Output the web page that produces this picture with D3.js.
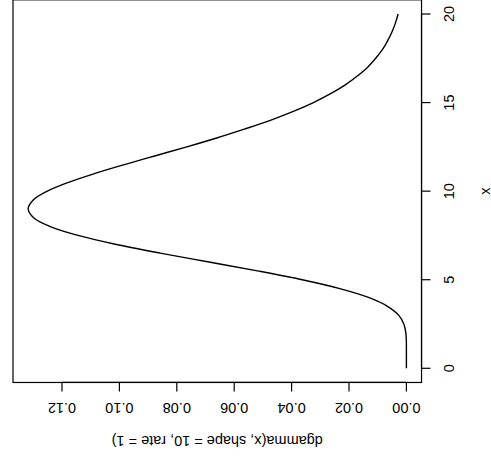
<!DOCTYPE html>
<html>
<head>
<meta charset="utf-8">
<script src="https://cdn.jsdelivr.net/npm/d3@7.9.0/dist/d3.min.js"></script>
<style>
  html, body { margin: 0; padding: 0; background: #fff; }
  svg { display: block; }
  text { font-family: "Liberation Sans", Arial, sans-serif; font-size: 14.5px; fill: #000; }
</style>
</head>
<body>
<svg id="chart" width="491" height="466"></svg>
<script>
const xValues = [0, 0.5, 1, 1.5, 2, 2.5, 3, 3.5, 4, 4.5, 5, 5.5, 6, 6.5, 7, 7.5, 8, 8.5, 9, 9.5,
  10, 10.5, 11, 11.5, 12, 12.5, 13, 13.5, 14, 14.5, 15, 15.5, 16, 16.5, 17, 17.5, 18, 18.5, 19, 19.5, 20];
const densityValues = [0, 0, 0, 0.00002, 0.0002, 0.0009, 0.0027, 0.0066, 0.0132, 0.0232,
  0.0363, 0.0519, 0.0688, 0.0858, 0.1014, 0.1144, 0.1241, 0.1299, 0.1318, 0.1300,
  0.1251, 0.1177, 0.1085, 0.0982, 0.0874, 0.0765, 0.0661, 0.0565, 0.0474, 0.0394,
  0.0324, 0.0264, 0.0213, 0.0171, 0.0135, 0.0107, 0.0083, 0.0065, 0.0050, 0.0038, 0.0029];
const xTicks = [0, 5, 10, 15, 20];
const yTicks = [0.00, 0.02, 0.04, 0.06, 0.08, 0.10, 0.12];
const xTitle = 'x';
const yTitle = 'dgamma(x, shape = 10, rate = 1)';

const svg = d3.select('#chart');

// the whole plot is turned a quarter turn: x runs bottom->top, density runs right->left
const xs = d3.scaleLinear().domain([0, 20]).range([368.3, 14]);
const ys = d3.scaleLinear().domain([0, 0.12]).range([406.4, 62]);

// R style 4% padding around the data for the box
const xExt = d3.extent(xValues);
const yExt = d3.extent(densityValues);
const xPad = (xExt[1] - xExt[0]) * 0.04;
const yPad = (yExt[1] - yExt[0]) * 0.04;
const boxLeft = ys(yExt[1] + yPad);
const boxRight = ys(yExt[0] - yPad);
const boxTop = xs(xExt[1] + xPad);
const boxBottom = xs(xExt[0] - xPad);

svg.append('rect')
  .attr('x', boxLeft)
  .attr('y', boxTop)
  .attr('width', boxRight - boxLeft)
  .attr('height', boxBottom - boxTop)
  .attr('fill', 'none')
  .attr('stroke', '#000')
  .attr('stroke-width', 1.2);

const pts = xValues.map((x, i) => [ys(densityValues[i]), xs(x)]);
svg.append('path')
  .attr('d', d3.line().curve(d3.curveCatmullRom)(pts))
  .attr('fill', 'none')
  .attr('stroke', '#000')
  .attr('stroke-width', 1.4);

const tickLen = 9;

// x axis, on the right side
svg.append('line')
  .attr('x1', boxRight).attr('x2', boxRight)
  .attr('y1', xs(xTicks[0])).attr('y2', xs(xTicks[xTicks.length - 1]))
  .attr('stroke', '#000').attr('stroke-width', 1.2);
xTicks.forEach(t => {
  svg.append('line')
    .attr('x1', boxRight).attr('x2', boxRight + tickLen)
    .attr('y1', xs(t)).attr('y2', xs(t))
    .attr('stroke', '#000').attr('stroke-width', 1.2);
  svg.append('text')
    .attr('transform', `translate(453.8,${xs(t)}) rotate(-90)`)
    .attr('text-anchor', 'middle')
    .text(t);
});
svg.append('text')
  .attr('transform', `translate(489.5,${(xs(0) + xs(20)) / 2}) rotate(-90)`)
  .attr('text-anchor', 'middle')
  .text(xTitle);

// density axis, along the bottom, upside down
svg.append('line')
  .attr('x1', ys(yTicks[0])).attr('x2', ys(yTicks[yTicks.length - 1]))
  .attr('y1', boxBottom).attr('y2', boxBottom)
  .attr('stroke', '#000').attr('stroke-width', 1.2);
yTicks.forEach(t => {
  svg.append('line')
    .attr('x1', ys(t)).attr('x2', ys(t))
    .attr('y1', boxBottom).attr('y2', boxBottom + tickLen)
    .attr('stroke', '#000').attr('stroke-width', 1.2);
  svg.append('text')
    .attr('transform', `translate(${ys(t)},403.3) rotate(180)`)
    .attr('text-anchor', 'middle')
    .text(t.toFixed(2));
});
svg.append('text')
  .attr('transform', `translate(${(boxLeft + boxRight) / 2},435.5) rotate(180)`)
  .attr('text-anchor', 'middle')
  .text(yTitle);
</script>
</body>
</html>
